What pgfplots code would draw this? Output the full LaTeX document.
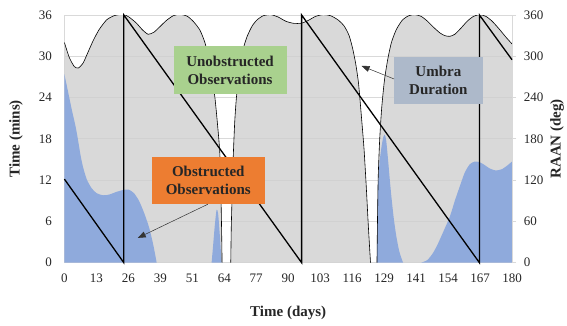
\documentclass[border=0pt]{standalone}
\usepackage{fontspec}
\setmainfont{Liberation Serif}
\usepackage{pgfplots}
\usepackage{pgfplotstable}
\pgfplotsset{compat=1.18}
\usetikzlibrary{arrows.meta}
\definecolor{gridc}{HTML}{D9D9D9}
\definecolor{umbrafill}{HTML}{D0D0D0}
\definecolor{obsblue}{HTML}{8FAADC}
\definecolor{boxgreen}{HTML}{A9D18E}
\definecolor{boxorange}{HTML}{ED7D31}
\definecolor{boxblue}{HTML}{ADB9CA}
\definecolor{txt}{HTML}{262626}

\pgfplotstableread{
x y
0 32.0
2 29.8
4 28.5
5.6 28.3
7.5 29.0
9.5 30.6
11.6 32.3
14 33.9
17 35.3
20 35.9
23.5 36.1
26 35.7
29 34.8
31.5 33.8
33.7 33.2
36 33.5
38.4 34.3
41 35.2
43.8 35.9
46.5 36.1
49.5 35.8
52 35.0
54.5 33.8
56.5 32.0
58 29.8
59.3 27.0
60.5 24.1
61.6 20
62.5 15.9
63.0 9
63.3 3
63.4 0
}\umbraA

\pgfplotstableread{
x y
66.9 0
67.1 5
67.5 10.5
67.9 15.4
68.5 20.5
69.2 24.1
70.5 28.4
72 31.2
73.5 32.9
75.5 34.4
77.5 35.3
80 35.9
83 36.05
86 35.7
89 35.1
92 34.8
95.2 34.8
98 35.2
101 35.8
104 36.05
107 35.9
110 35.3
112.5 34.4
114.5 33.0
116 31.0
117.2 28.8
118.3 26.0
119.5 21.0
120.5 16.5
121.4 11
122.2 5.5
123.1 0
}\umbraB

\pgfplotstableread{
x y
125.7 0
125.9 6
126.2 12.5
126.8 18
127.6 22.5
128.7 26.5
130 29.5
131.5 32
133.5 33.9
136 35.3
138.5 35.9
141 36.05
143.5 35.8
146 35.1
148.5 34.2
151 33.4
153 33.0
155 32.9
157 33.2
159.5 34.1
162 35.1
164.5 35.8
167 36.05
169.5 35.8
172 35.1
175 33.9
177.5 32.8
180 31.8
}\umbraC

\pgfplotstableread{
x y
0 27.4
1.5 24.8
3 22.2
4.5 19.8
5.5 17.8
6.5 15.6
7.5 13.9
9 12.1
11 10.8
13 10.1
15.5 9.8
18 9.9
21 10.3
24 10.6
26 10.6
28 10.1
30 9.0
32 7.3
34 5.2
35.5 3.0
36.5 1.2
37.1 0
}\obsA

\pgfplotstableread{
x y
59.2 0
59.8 2.5
60.5 5.5
61.2 7.7
61.8 7.2
62.4 4.5
62.9 1.8
63.2 0
}\obsB

\pgfplotstableread{
x y
125.7 0
125.9 6
126.1 11
126.7 14.5
127.5 16.8
128.2 18.2
128.8 18.6
129.4 17.8
130.1 15.2
130.8 12.3
131.5 9.6
132.5 6.3
133.5 3.8
134.7 1.6
136.2 0
}\obsC

\pgfplotstableread{
x y
143.5 0
146 0.4
148.2 1.4
150 2.6
152 4.2
155 6.7
157 9.0
159 11.1
161 13.1
163 14.3
165 14.7
167 14.6
169 14.2
171 13.7
173.5 13.4
176 13.6
178 14.1
180 14.7
}\obsD

\pgfplotstableread{
x y
0 121.5
23.9 0
23.9 360
95.4 0
95.4 360
166.9 0
166.9 360
180 295
}\raan

\begin{document}
\begin{tikzpicture}
\useasboundingbox (-64.4pt,-62.3pt) rectangle (502.6pt,262.7pt);
\begin{axis}[
  at={(0pt,0pt)}, anchor=south west, scale only axis,
  width=447.6pt, height=247.7pt,
  xmin=0, xmax=180, ymin=0, ymax=36,
  xtick={0,12.857,25.714,38.571,51.429,64.286,77.143,90,102.857,115.714,128.571,141.429,154.286,167.143,180},
  xticklabels={0,13,26,39,51,64,77,90,103,116,129,141,154,167,180},
  ytick={0,6,...,36},
  ymajorgrids, grid style={gridc, line width=0.8pt},
  axis line style={gridc, line width=0.8pt},
  major tick length=0pt,
  /pgf/number format/assume math mode=true,
  tick label style={font=\fontsize{13}{13}\selectfont, text=txt},
  xticklabel style={anchor=north, inner sep=0pt, yshift=-11pt},
  yticklabel style={anchor=east, inner sep=0pt, xshift=-12.4pt},
  xlabel={Time (days)},
  ylabel={Time (mins)},
  xlabel style={font=\bfseries\fontsize{15}{15}\selectfont, text=txt, at={(axis description cs:0.5,-0.2043)}, anchor=center},
  ylabel style={font=\bfseries\fontsize{15}{15}\selectfont, text=txt, at={(axis description cs:-0.108,0.5)}, anchor=center},
]
\addplot[draw=none, fill=umbrafill, fill opacity=0.8, smooth, tension=0.4] table {\umbraA} \closedcycle;
\addplot[draw=none, fill=umbrafill, fill opacity=0.8, smooth, tension=0.4] table {\umbraB} \closedcycle;
\addplot[draw=none, fill=umbrafill, fill opacity=0.8, smooth, tension=0.4] table {\umbraC} \closedcycle;
\addplot[draw=none, fill=obsblue, smooth, tension=0.4] table {\obsA} \closedcycle;
\addplot[draw=none, fill=obsblue, smooth, tension=0.4] table {\obsB} \closedcycle;
\addplot[draw=none, fill=obsblue, smooth, tension=0.4] table {\obsC} \closedcycle;
\addplot[draw=none, fill=obsblue, smooth, tension=0.4] table {\obsD} \closedcycle;
\addplot[black, line width=0.6pt, smooth, tension=0.4] table {\umbraA};
\addplot[black, line width=0.6pt, smooth, tension=0.4] table {\umbraB};
\addplot[black, line width=0.6pt, smooth, tension=0.4] table {\umbraC};
\end{axis}
\begin{axis}[
  at={(0pt,0pt)}, anchor=south west, scale only axis,
  width=447.6pt, height=247.7pt,
  xmin=0, xmax=180, ymin=0, ymax=360,
  axis x line=none, axis y line*=right,
  ytick={0,60,...,360},
  axis line style={gridc, line width=0.8pt},
  tick align=outside, major tick length=4pt,
  ytick style={gridc, line width=0.8pt},
  /pgf/number format/assume math mode=true,
  tick label style={font=\fontsize{13}{13}\selectfont, text=txt},
  yticklabel style={anchor=west, inner sep=0pt, xshift=7.6pt},
  ylabel={RAAN (deg)},
  ylabel style={font=\bfseries\fontsize{15}{15}\selectfont, text=txt, at={(axis description cs:1.1005,0.5)}, anchor=center},
  clip=false,
]
\addplot[black, line width=1.3pt] table {\raan};
\node[fill=boxgreen, minimum width=113pt, minimum height=48pt, align=center, inner sep=0pt,
  font=\bfseries\fontsize{15}{18.3}\selectfont, text=txt] at (axis cs:66.6,280) {Unobstructed\\Observations};
\node[fill=boxorange, minimum width=112.8pt, minimum height=47.5pt, align=center, inner sep=0pt,
  font=\bfseries\fontsize{15}{18.3}\selectfont, text=txt] at (axis cs:57.85,119.5) {Obstructed\\Observations};
\node[fill=boxblue, minimum width=88.6pt, minimum height=46.8pt, align=center, inner sep=0pt,
  font=\bfseries\fontsize{15}{18.3}\selectfont, text=txt] at (axis cs:150.4,265) {Umbra\\Duration};
\draw[-{Triangle[length=8pt,width=6pt]}, line width=0.5pt, black!80] (axis cs:132.6,267) -- (axis cs:119.5,286);
\draw[-{Triangle[length=8pt,width=6pt]}, line width=0.5pt, black!80] (axis cs:57.7,85) -- (axis cs:29.5,36);
\end{axis}
\end{tikzpicture}
\end{document}
